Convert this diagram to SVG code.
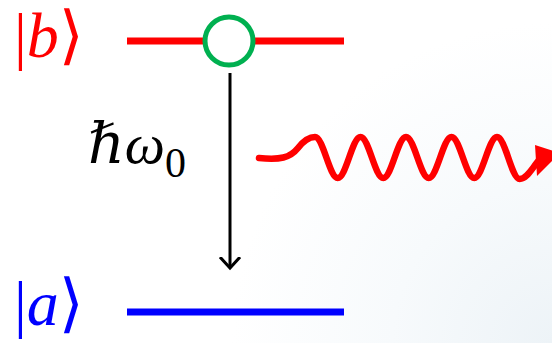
<svg xmlns="http://www.w3.org/2000/svg" width="552" height="343" viewBox="0 0 552 343">
<defs>
<radialGradient id="bg" cx="552" cy="343" r="320" gradientUnits="userSpaceOnUse">
<stop offset="0" stop-color="#edf3f7"/>
<stop offset="0.5" stop-color="#f7fafc"/>
<stop offset="1" stop-color="#ffffff"/>
</radialGradient>
<marker id="vhead" markerWidth="22" markerHeight="22" refX="11" refY="11" orient="auto" markerUnits="userSpaceOnUse" viewBox="0 0 22 22">
<path d="M0,1 L11,11 L0,21" fill="none" stroke="#000" stroke-width="3"/>
</marker>
</defs>
<style>
.lbl{font-family:"Liberation Serif","DejaVu Serif",serif;font-size:64px}
.it{font-style:italic}
.lvl{stroke-width:7;fill:none}
</style>
<rect width="552" height="343" fill="url(#bg)"/>
<g id="connectors">
<line x1="230" y1="73" x2="230" y2="268" stroke="#000" stroke-width="3" marker-end="url(#vhead)"/>
<path d="M259,158 C280,160 290,158 298,148 C305,139 310,137 315,137 C323.3,137 329.45,178 337.75,178 C346.05,178 352.2,137 360.5,137 C368.8,137 374.95,178 383.25,178 C391.55,178 397.7,137 406,137 C414.3,137 420.45,178 428.75,178 C437.05,178 443.2,137 451.5,137 C459.8,137 465.95,178 474.25,178 C482.55,178 488.7,137 497,137 C505.3,137 511.45,179 519.75,179 C527,179 532,168 540,159" fill="none" stroke="#ff0000" stroke-width="6.5" stroke-linecap="round"/>
<polygon points="535,145 537,176 560,153" fill="#ff0000"/>
</g>
<g id="level-b">
<line class="lvl" x1="127" y1="41" x2="344" y2="41" stroke="#ff0000"/>
<text class="lbl" x="14" y="57" fill="#ff0000">|<tspan class="it">b</tspan>⟩</text>
</g>
<g id="atom">
<circle cx="229" cy="41" r="24" fill="#ffffff" stroke="#00b050" stroke-width="5"/>
</g>
<g id="level-a">
<line class="lvl" x1="127" y1="312" x2="344" y2="312" stroke="#0000ff"/>
<text class="lbl" x="14" y="325" fill="#0000ff">|<tspan class="it">a</tspan>⟩</text>
</g>
<g id="energy-label">
<text x="88" y="163" font-family="'Liberation Serif','DejaVu Serif',serif" font-size="57" fill="#000"><tspan font-style="italic">ℏω</tspan><tspan font-size="42" dy="14">0</tspan></text>
</g>
</svg>
